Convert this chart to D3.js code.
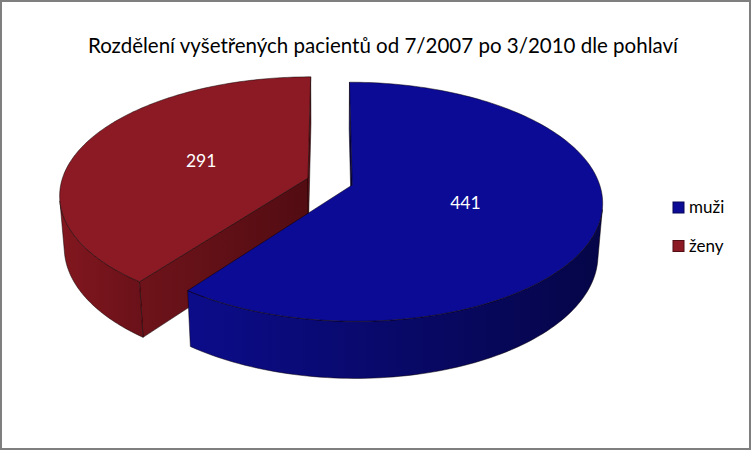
<!DOCTYPE html>
<html><head><meta charset="utf-8">
<script src="https://cdn.jsdelivr.net/npm/d3@7"></script>
<style>body{margin:0;background:#fff}svg{display:block}</style>
</head><body><svg id="c" width="753" height="451"></svg>
<script>
// ---- data ----
const categories = ["muži", "ženy"];
const values = [441, 291];
const title = "Rozdělení vyšetřených pacientů od 7/2007 po 3/2010 dle pohlaví";

// ---- styles ----
const topColors  = ["#0b0b96", "#8b1a24"];
const wallColors = [["#0c0c8a", "#050548"], ["#82171f", "#6a1119"]];
const faceColors = [["#08086a", "#040440"], ["#6e131a", "#520c12"]];

const svg = d3.select("#c");
svg.append("rect").attr("x",1).attr("y",1).attr("width",749).attr("height",448)
  .attr("fill","#fff").attr("stroke","#7f7f7f").attr("stroke-width",2);

// ---- 3D projection ----
const F = 1594, D = 6.35, phi = Math.asin(0.463), cx = 330, cy = 181.5, kx = 0.982;
const sn = Math.sin(phi), cs = Math.cos(phi);
const H = 0.235, explode = 0.0945;
function proj(X, Y, Z) {
  const yc = Y * cs + Z * sn, zc = -Y * sn + Z * cs + D;
  return [cx + kx * F * X / zc, cy - F * yc / zc];
}
const camPos = [0, D * sn, -D * cs];

const arcs = d3.pie().sort(null).value(d => d)(values);
const defs = svg.append("defs");
const line = d3.line();
const g = svg.append("g");

const slices = arcs.map((a, i) => {
  const mid = (a.startAngle + a.endAngle) / 2;
  return {a, i, ox: explode * Math.sin(mid), oz: explode * Math.cos(mid), mid};
}).sort((p, q) => q.oz - p.oz); // farther first

function grad(id, cols, pts) {
  const xs = pts.map(p => p[0]);
  const lg = defs.append("linearGradient").attr("id", id).attr("gradientUnits","userSpaceOnUse")
    .attr("x1", d3.min(xs)).attr("x2", d3.max(xs)).attr("y1",0).attr("y2",0);
  lg.append("stop").attr("offset","0").attr("stop-color", cols[0]);
  lg.append("stop").attr("offset","1").attr("stop-color", cols[1]);
  return `url(#${id})`;
}
const edge = {stroke: "rgba(10,0,0,0.7)", w: 0.7};

slices.forEach(sl => {
  const {a, i, ox, oz} = sl;
  const pt = (r, t, Y) => proj(ox + r * Math.sin(t), Y, oz + r * Math.cos(t));
  const N = 160;
  const ts = d3.range(N + 1).map(k => a.startAngle + (a.endAngle - a.startAngle) * k / N);

  // radial faces
  [[a.startAngle, -1], [a.endAngle, 1]].forEach(([ang, sgn], k) => {
    const n = [sgn * Math.cos(ang), -sgn * Math.sin(ang)];
    const v = [camPos[0] - ox, camPos[2] - oz];
    if (n[0] * v[0] + n[1] * v[1] > 0) {
      const poly = [pt(0, ang, 0), pt(1, ang, 0), pt(1, ang, -H), pt(0, ang, -H)];
      g.append("path").attr("d", line(poly) + "Z")
        .attr("fill", grad(`f${i}_${k}`, faceColors[i], poly))
        .attr("stroke", edge.stroke).attr("stroke-width", edge.w).attr("stroke-linejoin","round");
    }
  });

  // outer wall, visible runs
  const vis = [];
  for (let k = 0; k < N; k++) {
    const t = (ts[k] + ts[k + 1]) / 2;
    const px = ox + Math.sin(t), pz = oz + Math.cos(t);
    const dot = Math.sin(t) * (camPos[0] - px) + Math.cos(t) * (camPos[2] - pz);
    vis.push(dot > 0);
  }
  let k = 0;
  while (k < N) {
    if (!vis[k]) { k++; continue; }
    let j = k;
    while (j < N && vis[j]) j++;
    const run = ts.slice(k, j + 1);
    const poly = run.map(t => pt(1, t, 0)).concat(run.slice().reverse().map(t => pt(1, t, -H)));
    g.append("path").attr("d", line(poly) + "Z")
      .attr("fill", grad(`w${i}_${k}`, wallColors[i], poly))
      .attr("stroke", edge.stroke).attr("stroke-width", edge.w).attr("stroke-linejoin","round");
    k = j;
  }

  // top face
  const topPoly = [pt(0, 0, 0)].concat(ts.map(t => pt(1, t, 0)));
  g.append("path").attr("d", line(topPoly) + "Z")
    .attr("fill", topColors[i])
    .attr("stroke", edge.stroke).attr("stroke-width", edge.w).attr("stroke-linejoin","round");
});

// labels
arcs.forEach((a, i) => {
  const mid = (a.startAngle + a.endAngle) / 2;
  const ox = explode * Math.sin(mid), oz = explode * Math.cos(mid);
  const r = 0.47;
  const p = proj(ox + r * Math.sin(mid), 0, oz + r * Math.cos(mid));
  svg.append("text").attr("x", p[0]).attr("y", p[1] + 6)
    .attr("text-anchor", "middle").attr("fill", "#fff")
    .attr("font-family", "Lato, 'Open Sans', sans-serif").attr("font-size", 17.5)
    .text(a.data);
});

// title
svg.append("text").attr("x", 383).attr("y", 53).attr("text-anchor", "middle")
  .attr("font-family", "Lato, 'Open Sans', sans-serif").attr("font-size", 20.5)
  .attr("fill", "#000").text(title);

// legend
const lg = svg.append("g").attr("font-family", "Lato, 'Open Sans', sans-serif").attr("font-size", 17);
categories.forEach((cname, i) => {
  const y = 202 + i * 38.5;
  lg.append("rect").attr("x", 673).attr("y", y).attr("width", 11).attr("height", 11)
    .attr("fill", topColors[i]).attr("stroke", d3.color(topColors[i]).darker(1.5)).attr("stroke-width", 1);
  lg.append("text").attr("x", 689).attr("y", y + 11).attr("fill", "#000").text(cname);
});
</script></body></html>
